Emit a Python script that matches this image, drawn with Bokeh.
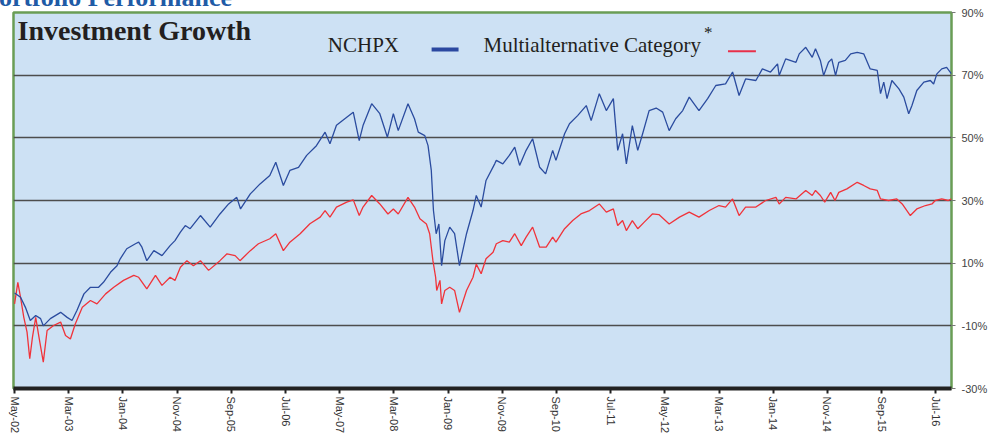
from bokeh.plotting import figure
from bokeh.models import FixedTicker, Range1d, Label, Div
from bokeh.layouts import column
from bokeh.embed import file_html
from bokeh.resources import INLINE

# ---------------- data ----------------
x_tick_labels = ["May-02", "Mar-03", "Jan-04", "Nov-04", "Sep-05", "Jul-06", "May-07",
                 "Mar-08", "Jan-09", "Nov-09", "Sep-10", "Jul-11", "May-12", "Mar-13",
                 "Jan-14", "Nov-14", "Sep-15", "Jul-16"]
x_tick_months = [10 * i for i in range(len(x_tick_labels))]  # months since May-02
y_ticks = [-30, -10, 10, 30, 50, 70, 90]
y_tick_labels = [f"{t}%" for t in y_ticks]

nchpx_months = [0, 1.1, 2.0, 2.9, 3.9, 4.8, 5.3, 6.6, 8.5, 9.7, 10.6, 11.5, 12.8, 14, 15.5, 16.4,
                17.7, 18.9, 19.5, 20.7, 22.3, 22.9, 23.5, 24.4, 25.7, 27.2, 28.7, 29.6, 30.6, 31.5,
                32.4, 34.3, 36.1, 37.9, 39.5, 41.0, 41.7, 43.5, 45.3, 47.1, 48.2, 49.6, 50.8, 52.4,
                53.9, 55.7, 57.3, 58.2, 59.4, 61.3, 62.5, 63.6, 64.3, 65.9, 67.4, 68.8, 69.9, 70.8,
                72.6, 73.8, 74.5, 75.7, 76.3, 76.9, 77.3, 77.8, 78.3, 78.8, 79.4, 80.3, 81.2, 82.1,
                83.4, 84.6, 85.2, 86.1, 87.0, 88.6, 88.9, 90.1, 91.3, 92.3, 93.2, 94.4, 95.6, 96.9,
                98.0, 99.3, 99.9, 101.5, 102.4, 103.9, 105.5, 106.4, 107.9, 109.2, 110.5, 111.3,
                112.2, 112.9, 114.0, 115.0, 115.9, 117.1, 118.4, 119.6, 120.8, 122.0, 123.3, 124.5,
                126.3, 127.9, 129.4, 131.2, 132.5, 133.7, 134.9, 136.8, 138.0, 139.5, 140.8, 141.1,
                142.3, 144.2, 144.8, 146.0, 147.2, 147.8, 148.7, 149.3, 150.2, 150.8, 151.5, 152.1,
                153.3, 154.3, 155.5, 156.7, 157.9, 159.2, 159.8, 160.4, 161.0, 161.9, 163.2, 164.1,
                165.0, 165.6, 166.5, 167.8, 169.0, 169.6, 170.2, 171.1, 172.0, 172.9]
nchpx_values = [0.5, -0.9, -4.1, -8.3, -6.7, -7.7, -10, -7.7, -5.7, -7.3, -8.3, -5.1, 0.2, 2.3, 2.3, 3.9,
                7.1, 9.2, 11.4, 14.6, 16.2, 16.7, 15.1, 10.8, 14, 12.4, 15.6, 17.2, 19.9, 22,
                21, 25.2, 21.5, 25.7, 28.9, 31.0, 27.3, 32.1, 35.3, 38, 42.2, 34.8, 39.6, 40.6,
                44.4, 47.5, 51.8, 48.1, 54, 56.6, 58.2, 49.1, 53.9, 60.9, 57.7, 50.2, 57.7, 52.3,
                60.9, 56.1, 51.8, 50.7, 47.5, 39.6, 26.8, 19.4, 22.5, 9.2, 17.2, 21.5, 19.4, 9.2,
                19.4, 26.8, 31.6, 27.9, 36.4, 41.7, 42.8, 41.7, 44.4, 47, 41.2, 46, 49.7, 40.6,
                38.5, 46, 42.8, 51.3, 54.5, 57.1, 60.3, 55.5, 64.1, 58.7, 62.5, 46,
                51.3, 41.7, 53.9, 46, 51.3, 58.7, 59.5, 58.2, 52.3, 56.1, 58.7, 63,
                58.7, 62.5, 66.7, 67.2, 71, 63.5, 68.8, 68.3, 72, 71, 73.6, 69.9,
                75.2, 74.1, 76.8, 78.9, 75.7, 78.4, 74.7, 69.9, 74.1, 75.2, 69.9, 74.1,
                74.7, 76.8, 77.3, 76.8, 72, 71.5, 64.1, 67.8, 62.5, 68.3, 65.6, 63,
                57.7, 60.3, 65.1, 67.8, 68.3, 67.2, 70.4, 72, 72.5, 70.4]

cat_months = [0, 0.6, 1.1, 1.7, 2.3, 2.8, 3.3, 3.9, 4.5, 5.3, 6.0, 7.2, 8.5, 9.4, 10.3, 11.2, 12.5, 14,
              15.2, 16.8, 18.3, 20.1, 22.0, 22.9, 24.4, 26.0, 27.2, 28.7, 29.6, 30.6, 31.8, 33.0,
              34.3, 35.8, 37.9, 39.2, 40.7, 41.6, 43.5, 45.0, 47.1, 48.2, 49.6, 50.8, 52.7, 54.5,
              56.4, 57.3, 58.2, 59.4, 61.3, 62.5, 63.6, 64.3, 65.9, 67.4, 68.9, 69.9, 70.8, 72.6,
              73.8, 74.8, 76.0, 76.6, 77.2, 77.7, 77.9, 78.5, 78.8, 79.4, 80.3, 81.2, 82.1, 83.4,
              84.6, 85.2, 86.1, 87.0, 88.3, 88.9, 90.1, 91.3, 92.3, 93.5, 94.4, 95.6, 96.9, 98.1,
              99.3, 99.9, 101.5, 103.0, 104.5, 106.1, 107.9, 109.2, 110.5, 111.3, 112.2, 112.9,
              114.0, 115.0, 116.2, 117.7, 118.9, 120.8, 122.7, 124.5, 126.3, 128.2, 130.0, 131.2,
              132.5, 133.7, 134.9, 136.8, 138.6, 140.5, 141.1, 142.3, 144.2, 146.0, 147.2, 147.8,
              148.7, 149.5, 150.6, 151.4, 152.1, 153.6, 155.5, 156.7, 157.9, 159.2, 159.8, 161.3,
              162.8, 163.8, 165.3, 166.5, 168.1, 169.3, 169.9, 171.1, 172.3, 172.9]
cat_values = [-3, 3.9, -0.9, -7.3, -12, -20.5, -13.6, -7.3, -13.6, -21.6, -11.5, -9.9, -8.8, -13.1, -14.2, -9.4, -4.1, -1.9,
              -3, 0.2, 2.3, 4.5, 6.1, 5.5, 1.8, 6.1, 2.9, 5.5, 4.5, 8.7, 10.8, 9.2,
              10.8, 7.7, 10.8, 13, 12.4, 10.8, 14, 16.2, 17.8, 19.4, 14, 16.7, 19.4, 22.6,
              24.7, 26.8, 24.7, 27.9, 29.5, 30.2, 25.2, 27.9, 31.6, 28.9, 25.7, 27.3, 25.7, 31.0,
              27.9, 24.2, 22.5, 19.4, 10.8, 5.5, 1.3, 4.5, -3, 1.3, 2.3, 1.3, -5.7, 1.3,
              5.5, 9.7, 6.6, 11.4, 13.5, 16.2, 17.2, 16.7, 19.4, 15.6, 18.3, 21.5, 15.1, 15.1,
              18.3, 16.7, 21, 23.6, 25.7, 26.8, 28.9, 26.3, 27.3, 22, 23.6, 20.4,
              23.6, 21, 23.1, 25.7, 25.5, 22.5, 24.7, 26.3, 24.7, 26.8, 28.4, 27.9,
              30.5, 25.2, 27.9, 27.9, 30, 31, 28.9, 31, 30.5, 33.2, 31.6, 33.2,
              31.6, 29.5, 32.6, 30, 32.6, 33.7, 35.8, 34.8, 33.7, 33.2, 30.5, 30,
              30.5, 28.9, 25.2, 27.3, 28.4, 28.9, 30, 30.5, 30, 30.5]

# ---------------- layout helpers (screen px -> data) ----------------
X0, X1 = -0.2, 172.9
Y0, Y1 = -30, 90
FL, FR, FT, FB = 13, 953, 12, 388


def dx(px):
    return X0 + (px - FL) * (X1 - X0) / (FR - FL)


def dy(py):
    return Y1 - (py - FT) * (Y1 - Y0) / (FB - FT)


p = figure(width=990, height=436, output_backend="svg", toolbar_location=None,
           x_range=Range1d(X0, X1), y_range=Range1d(Y0, Y1), y_axis_location="right",
           min_border_left=FL, min_border_right=990 - FR, min_border_top=FT,
           min_border_bottom=436 - FB,
           background_fill_color="#cde1f4", border_fill_color="white")

p.outline_line_color = "#6a9d55"
p.outline_line_width = 2.5

# grid
p.xgrid.visible = False
p.ygrid.ticker = FixedTicker(ticks=y_ticks[1:-1])
p.ygrid.grid_line_color = "#4d4d4d"
p.ygrid.grid_line_width = 1.5

# x axis
xa = p.xaxis[0]
xa.ticker = FixedTicker(ticks=x_tick_months)
xa.major_label_overrides = {m: l for m, l in zip(x_tick_months, x_tick_labels)}
xa.major_label_orientation = "vertical"
xa.axis_line_color = "#222222"
xa.axis_line_width = 4
xa.major_tick_line_color = "#222222"
xa.major_tick_line_width = 2
xa.major_tick_in = 0
xa.major_tick_out = 5
xa.minor_tick_line_color = None
xa.major_label_standoff = 3
xa.major_label_text_font = "Liberation Sans"
xa.major_label_text_font_size = "11px"
xa.major_label_text_color = "#333333"

# y axis (right)
ya = p.yaxis[0]
ya.ticker = FixedTicker(ticks=y_ticks)
ya.major_label_overrides = {t: l for t, l in zip(y_ticks, y_tick_labels)}
ya.axis_line_color = None
ya.major_tick_line_color = "#777777"
ya.major_tick_in = 0
ya.major_tick_out = 4
ya.minor_tick_line_color = None
ya.major_label_standoff = 6
ya.major_label_text_font = "Liberation Sans"
ya.major_label_text_font_size = "11px"
ya.major_label_text_color = "#444444"

# series
p.line(cat_months, cat_values, line_color="#f0333a", line_width=1.3)
p.line(nchpx_months, nchpx_values, line_color="#2b4c9f", line_width=1.3)

# legend keys
p.line([dx(432), dx(459)], [dy(49), dy(49)], line_color="#2b48a0", line_width=4)
p.line([dx(729), dx(757)], [dy(50.7), dy(50.7)], line_color="#e8304a", line_width=2)

serif = "Liberation Serif"
p.add_layout(Label(x=dx(17), y=dy(45), text="Investment Growth", text_font=serif,
                   text_font_style="bold", text_font_size="28px", text_color="#231f20"))
p.add_layout(Label(x=dx(328), y=dy(56), text="NCHPX", text_font=serif,
                   text_font_size="21px", text_color="#231f20"))
p.add_layout(Label(x=dx(484), y=dy(56), text="Multialternative Category", text_font=serif,
                   text_font_size="21px", text_color="#231f20"))
p.add_layout(Label(x=dx(705), y=dy(41), text="*", text_font=serif,
                   text_font_size="17px", text_color="#231f20"))

# page heading, cut off at the top edge as in the reference
heading = Div(
    text='<span style="font-family:\'Liberation Serif\';font-weight:bold;font-size:26px;'
         'line-height:26px;color:#1f5ba6;white-space:nowrap">Portfolio Performance</span>',
    width=400, height=28,
    styles={"position": "absolute", "top": "-15px", "left": "-17px", "margin": "0",
            "padding": "0", "z-index": "10"})

layout = column(p, heading)

open("out.html", "w").write(file_html(layout, INLINE))
